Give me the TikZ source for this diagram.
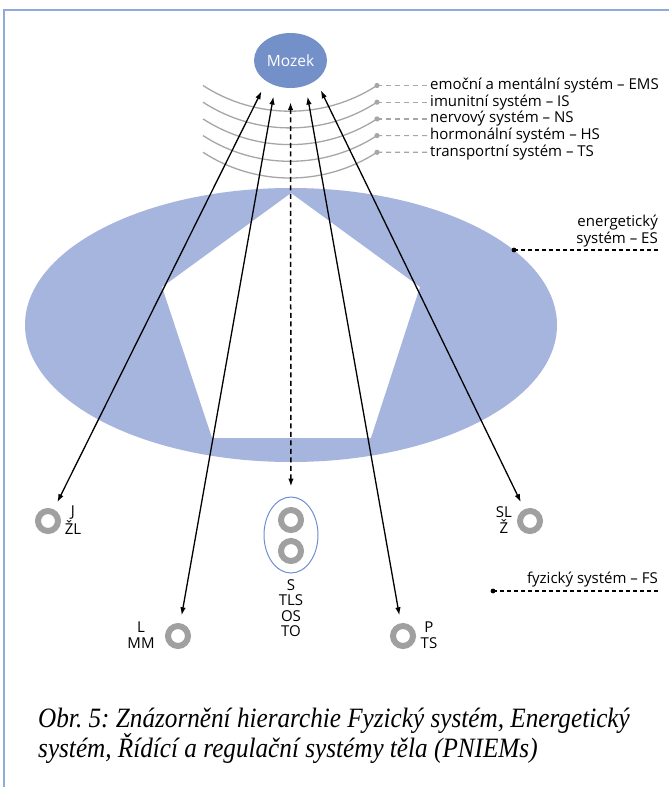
\documentclass[tikz,border=0pt]{standalone}
\usepackage{fontspec}
\setmainfont{Open Sans}
\newfontfamily\capfont[FakeStretch=0.9]{Liberation Serif}
\usetikzlibrary{arrows.meta,shapes.geometric}
\definecolor{framecol}{HTML}{8FAADC}
\definecolor{mozekcol}{HTML}{7490C8}
\definecolor{escol}{HTML}{A6B5DD}
\definecolor{ringcol}{HTML}{A0A0A0}
\definecolor{arccol}{HTML}{A6A6A6}
\definecolor{scol}{HTML}{6F8FD0}
\frenchspacing
\begin{document}
\begin{tikzpicture}[x=1pt,y=-1pt,
  ring/.style={circle, draw=ringcol, line width=6pt, minimum size=20pt, inner sep=0pt, outer sep=3pt},
  lbl/.style={font=\fontsize{15}{15.5}\selectfont, inner sep=0pt, align=center},
  leg/.style={font=\fontsize{15}{16}\selectfont, inner sep=0pt, anchor=west},
  conn/.style={{Latex[length=8pt,width=5.5pt]}-{Latex[length=8pt,width=5.5pt]}, line width=1.3pt, shorten <=8pt, shorten >=11pt},
  arcline/.style={draw=arccol, line width=1.3pt},
  legdash/.style={draw=arccol, line width=1.2pt, dash pattern=on 5pt off 4pt, shorten >=2pt},
  blackdash/.style={draw=black, line width=1.3pt, dash pattern=on 4pt off 3pt},
  capstyle/.style={font=\capfont\itshape\fontsize{28}{30}\selectfont, inner sep=0pt, anchor=base west}
]
\useasboundingbox (0,0) rectangle (669,787);
\fill[white] (0,0) rectangle (669,787);
% frame
\draw[framecol, line width=1.5pt] (4,787) -- (4,10) -- (669,10);

% energetic system: ellipse minus pentagon
\fill[escol, even odd rule] (291,325) ellipse [x radius=266, y radius=137]
  (291,193) -- (420,287) -- (371,438) -- (212,438) -- (162,287) -- cycle;

% Mozek
\node[ellipse, fill=mozekcol, minimum width=73pt, minimum height=55pt, inner sep=0pt,
  text=white, font=\fontsize{15.5}{17}\selectfont] (mozek) at (290.5,60.5) {Mozek};

% arcs
\foreach \i in {0,...,4}{
  \pgfmathsetmacro{\yy}{85.5+16.7*\i}
  \draw[arcline] (203,\yy) arc[start angle=122.94, end angle=57.06, radius=160];
  \fill[arccol] (377,\yy) circle (2.6);
  \coordinate (d\i) at (377,\yy);
}
\node[leg] (t0) at (430,85.5) {emoční a mentální systém – EMS};
\node[leg] (t1) at (430,102.2) {imunitní systém – IS};
\node[leg] (t2) at (430,118.9) {nervový systém – NS};
\node[leg] (t3) at (430,135.6) {hormonální systém – HS};
\node[leg] (t4) at (430,152.3) {transportní systém – TS};
\foreach \i in {0,...,4}{ \draw[legdash] (d\i) -- (t\i.west); }

% ES label
\node[font=\fontsize{15}{17}\selectfont, inner sep=0pt, align=right, anchor=south east] (es) at (658,247) {energetický\\systém – ES};
\coordinate (esdot) at (514,250);
\coordinate (esend) at (658,250);
\fill (esdot) circle (2.4);
\draw[blackdash] (esdot) -- (esend);

% FS label
\node[font=\fontsize{15}{17}\selectfont, inner sep=0pt, anchor=south east] (fs) at (658,587) {fyzický systém – FS};
\coordinate (fsdot) at (493,591);
\coordinate (fsend) at (660,591);
\fill (fsdot) circle (2.4);
\draw[blackdash] (fsdot) -- (fsend);

% rings
\node[ring] (J) at (48,521) {};
\node[ring] (L) at (178,636) {};
\node[ring] (P) at (403,636) {};
\node[ring] (SL) at (530,521) {};
\node[ellipse, draw=scol, line width=1pt, minimum width=54pt, minimum height=76pt, inner sep=0pt] (S) at (291,535) {};
\node[ring] (S1) at (291,520) {};
\node[ring] (S2) at (291,551) {};

% ring labels
\node[lbl] (Jl) at (73,520) {J\\ŽL};
\node[lbl] (SLl) at (504,520) {SL\\Ž};
\node[lbl] (Ll) at (141,635) {L\\MM};
\node[lbl] (Pl) at (429,635) {P\\TS};
\node[lbl, anchor=north] (Sl) at (291,579) {S\\TLS\\OS\\TO};

% connectors
\draw[conn] (J) -- (mozek.221);
\draw[conn] (L) -- (mozek.239);
\draw[conn, dash pattern=on 5pt off 3.5pt, line width=1.5pt, shorten <=10pt, shorten >=14pt] (S) -- (mozek.south);
\draw[conn] (P) -- (mozek.301);
\draw[conn] (SL) -- (mozek.322.6);

% caption
\node[capstyle] (cap1) at (38,727) {Obr. 5: Znázornění hierarchie Fyzický systém, Energetický};
\node[capstyle] (cap2) at (38,757) {systém, Řídící a regulační systémy těla (PNIEMs)};
\end{tikzpicture}
\end{document}
